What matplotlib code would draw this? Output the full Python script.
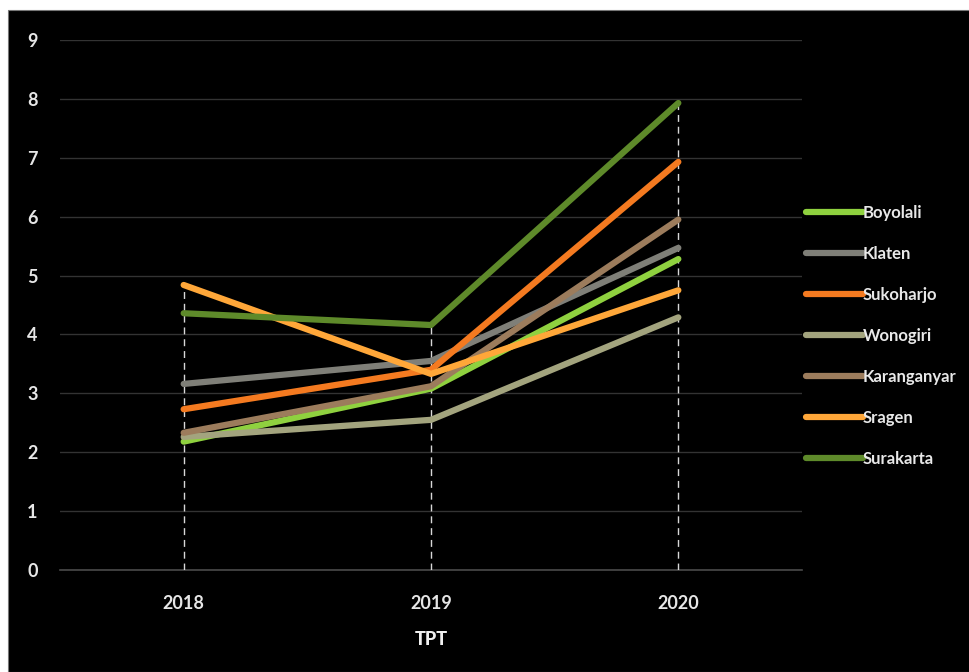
import matplotlib
matplotlib.use('Agg')
import matplotlib.pyplot as plt
from matplotlib.patches import Rectangle
import numpy as np

# Data (TPT per regency)
years = ['2018', '2019', '2020']
regions = ['Boyolali', 'Klaten', 'Sukoharjo', 'Wonogiri', 'Karanganyar', 'Sragen', 'Surakarta']
boyolali = [2.18, 3.08, 5.28]
klaten = [3.16, 3.55, 5.47]
sukoharjo = [2.73, 3.40, 6.93]
wonogiri = [2.26, 2.55, 4.29]
karanganyar = [2.33, 3.12, 5.95]
sragen = [4.84, 3.33, 4.75]
surakarta = [4.36, 4.16, 7.93]
series = [boyolali, klaten, sukoharjo, wonogiri, karanganyar, sragen, surakarta]
colours = ['#8fd13f', '#7f7f78', '#f47a20', '#a3a47e', '#9c7c5c', '#ffa739', '#5e8a2a']

plt.rcParams['font.family'] = ['Lato', 'DejaVu Sans']

fig = plt.figure(figsize=(9.7, 6.72), dpi=100)
fig.patch.set_facecolor('white')
# black panel behind the chart
fig.patches.append(Rectangle((8 / 970, 0), 1, 1 - 10 / 672, transform=fig.transFigure,
                             facecolor='black', edgecolor='#777777', lw=0.8, zorder=-10))

ax = fig.add_axes([60 / 970, 1 - 570 / 672, (802 - 60) / 970, (570 - 40) / 672])
ax.patch.set_alpha(0)
x = np.arange(len(years))

# drop lines from zero to the top value of each year
tops = np.max(np.array(series), axis=0)
ax.vlines(x, 0, tops, colors='#d8d8d8', linestyles=(0, (5, 3.5)), lw=1, zorder=2)

for vals, col, name in zip(series, colours, regions):
    ax.plot(x, vals, color=col, lw=4.5, solid_capstyle='round', label=name, zorder=3)

ax.set_xlim(-0.5, 2.5)
ax.set_ylim(0, 9)
ax.set_yticks(range(0, 10))
ax.set_xticks(x)
ax.set_xticklabels(years)
ax.grid(axis='y', color='#333333', lw=1)
ax.axhline(0, color='#4a4a4a', lw=1.2, zorder=1, clip_on=False)
ax.set_axisbelow(True)
for s in ax.spines.values():
    s.set_visible(False)
ax.tick_params(length=0, colors='#e6e6e6', labelsize=13)
for lab in ax.get_xticklabels() + ax.get_yticklabels():
    lab.set_fontweight('bold')
ax.tick_params(axis='y', pad=16)
ax.tick_params(axis='x', pad=18)
ax.set_xlabel('TPT', color='#f0f0f0', labelpad=14, fontdict={'size': 13, 'weight': 900})

leg = ax.legend(loc='upper left', bbox_to_anchor=(806 / 970, 1 - 205 / 672), bbox_transform=fig.transFigure,
                frameon=False, handlelength=3.4, handletextpad=0.0, labelspacing=1.5,
                prop={'size': 12, 'weight': 'bold'}, borderaxespad=0, borderpad=0)
for t in leg.get_texts():
    t.set_color('#e8e8e8')

fig.savefig('out.png', dpi=100, facecolor=fig.get_facecolor())
